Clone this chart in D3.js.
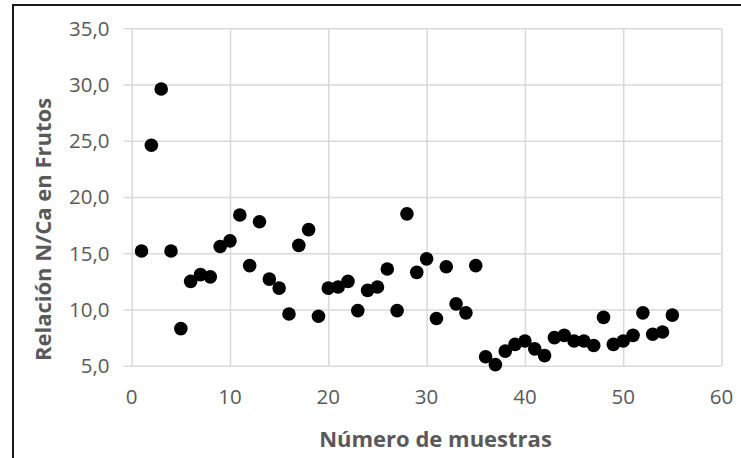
<!DOCTYPE html>
<html>
<head>
<meta charset="utf-8">
<script src="https://cdn.jsdelivr.net/npm/d3@7"></script>
<style>
  html, body { margin: 0; padding: 0; background: #fff; }
  svg { display: block; }
  text { font-family: "Open Sans", "Liberation Sans", sans-serif; }
</style>
</head>
<body>
<svg id="chart" width="741" height="458"></svg>
<script>
// Sample number (x) and N/Ca ratio in fruit (y)
const muestras = [
  1, 2, 3, 4, 5, 6, 7, 8, 9, 10,
  11, 12, 13, 14, 15, 16, 17, 18, 19, 20,
  21, 22, 23, 24, 25, 26, 27, 28, 29, 30,
  31, 32, 33, 34, 35, 36, 37, 38, 39, 40,
  41, 42, 43, 44, 45, 46, 47, 48, 49, 50,
  51, 52, 53, 54, 55
];
const relacionNCa = [
  15.2, 24.6, 29.6, 15.2, 8.3, 12.5, 13.1, 12.9, 15.6, 16.1,
  18.4, 13.9, 17.8, 12.7, 11.9, 9.6, 15.7, 17.1, 9.4, 11.9,
  12.0, 12.5, 9.9, 11.7, 12.0, 13.6, 9.9, 18.5, 13.3, 14.5,
  9.2, 13.8, 10.5, 9.7, 13.9, 5.8, 5.1, 6.3, 6.9, 7.2,
  6.5, 5.9, 7.5, 7.7, 7.2, 7.2, 6.8, 9.3, 6.9, 7.2,
  7.7, 9.7, 7.8, 8.0, 9.5
];
const xTicks = [0, 10, 20, 30, 40, 50, 60];
const yTicks = [5, 10, 15, 20, 25, 30, 35];
const xTitle = "Número de muestras";
const yTitle = "Relación N/Ca en Frutos";

const svg = d3.select("#chart");
const W = 741, H = 458;
const plot = { left: 131.7, right: 721.5, top: 28.3, bottom: 365.7 };

const x = d3.scaleLinear().domain([0, 60]).range([plot.left, plot.right]);
const y = d3.scaleLinear().domain([5, 35]).range([plot.bottom, plot.top]);
const fmt = v => d3.format(".1f")(v).replace(".", ",");

// outer chart frame
svg.append("rect")
  .attr("x", 13).attr("y", 5)
  .attr("width", W + 10).attr("height", H + 10)
  .attr("fill", "#fff")
  .attr("stroke", "#1a1a1a").attr("stroke-width", 2);

// vertical gridlines
svg.append("g")
  .attr("transform", `translate(0,${plot.bottom})`)
  .call(d3.axisBottom(x).tickValues(xTicks).tickSize(-(plot.bottom - plot.top)).tickFormat(""))
  .call(g => g.select(".domain").remove())
  .call(g => g.selectAll("line").attr("stroke", "#d9d9d9").attr("stroke-width", 1.5));

// horizontal gridlines, extending slightly left as tick marks
svg.append("g")
  .attr("transform", `translate(${plot.right},0)`)
  .call(d3.axisLeft(y).tickValues(yTicks).tickSize(plot.right - plot.left + 8).tickFormat(""))
  .call(g => g.select(".domain").remove())
  .call(g => g.selectAll("line").attr("stroke", "#d9d9d9").attr("stroke-width", 1.5));

// y tick labels
svg.append("g").selectAll("text")
  .data(yTicks).join("text")
  .attr("x", 109.5)
  .attr("y", d => y(d))
  .attr("dy", "0.36em")
  .attr("text-anchor", "end")
  .attr("fill", "#595959")
  .attr("font-size", 20.5)
  .text(fmt);

// x tick labels
svg.append("g").selectAll("text")
  .data(xTicks).join("text")
  .attr("x", d => x(d))
  .attr("y", 404)
  .attr("text-anchor", "middle")
  .attr("fill", "#595959")
  .attr("font-size", 20.5)
  .text(d => d);

// axis titles
svg.append("text")
  .attr("x", 435.5)
  .attr("y", 447)
  .attr("text-anchor", "middle")
  .attr("fill", "#595959")
  .attr("font-size", 22)
  .attr("font-weight", "bold")
  .text(xTitle);

svg.append("text")
  .attr("transform", "translate(51,229.5) rotate(-90)")
  .attr("text-anchor", "middle")
  .attr("fill", "#595959")
  .attr("font-size", 22)
  .attr("font-weight", "bold")
  .text(yTitle);

// scatter points
svg.append("g").selectAll("circle")
  .data(muestras.map((m, i) => [m, relacionNCa[i]]))
  .join("circle")
  .attr("cx", d => x(d[0]))
  .attr("cy", d => y(d[1]))
  .attr("r", 6.8)
  .attr("fill", "#000");
</script>
</body>
</html>
